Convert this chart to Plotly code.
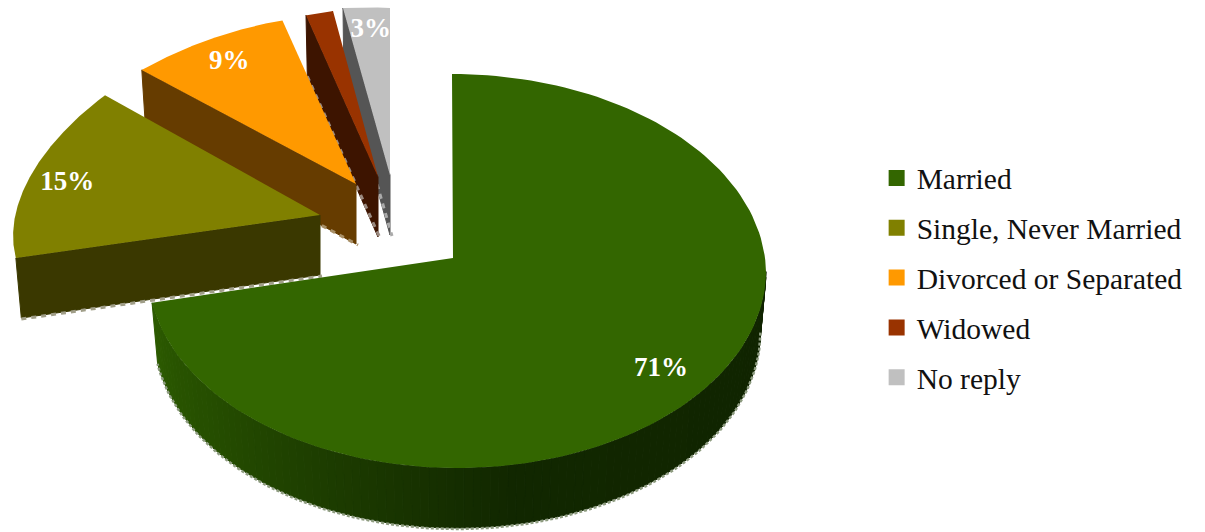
import numpy as np
import plotly.graph_objects as go

# ---- data ----
categories = ["Married", "Single, Never Married", "Divorced or Separated", "Widowed", "No reply"]
values = [71, 15, 9, 2, 3]
labels = ["71%", "15%", "9%", "", "3%"]

# ---- style ----
top_colors = ["#336600", "#808000", "#FF9900", "#993300", "#C0C0C0"]
wall_colors = [None, "#3A3800", "#663C00", "#3D1400", "#555555"]
rim_colors = ["#8E9C80", "#A09E88", "#A88F66", "#9A8A80", "#AAAAAA"]
FONT = "Liberation Serif"

# ---- pseudo-3D projection of the pie (layout settings, not data) ----
CX, CY = 453, 258       # apex of the un-pulled pie
EX, EY, ERX, ERY = 457, 271, 309, 197   # outer ellipse of the big slice (perspective shifts it)
WARP = 1.02             # perspective stretch of the big slice's angles
SKEW = 5                # rear of the big slice leans left
DEPTH = 60
BOTTOM_K = 0.982        # the lower face is slightly narrower (perspective)
# explosion offset of each slice, and radii at its start/end angle
pull = [(0, 0), (-133, -43), (-97, -74), (-75, -81), (-63, -83)]
rx_ends = [None, (314, 279), (278, 238), (233, 240), (251, 251)]
ry_ends = [None, (173, 188), (179, 172), (170, 169), (170, 167)]
LABEL_F = 0.86
label_nudge = [(2, -10), (-4, 2), (-2, 3), (0, 0), (1, 0)]

wall_stops_deg = [90, 170, 200, 230, 262]
wall_stops_rgb = np.array([[16, 36, 0], [18, 40, 0], [28, 58, 0], [37, 77, 0], [45, 92, 0]])

fractions = np.cumsum([0] + values) / sum(values)
starts, ends = fractions[:-1] * 2 * np.pi, fractions[1:] * 2 * np.pi


def project(i, th):
    th = np.asarray(th, dtype=float)
    ax, ay = CX + pull[i][0], CY + pull[i][1]
    if i == 0:
        phi = th * WARP
        c = np.cos(phi)
        return EX + ERX * np.sin(phi) - SKEW * np.maximum(c, 0), EY - ERY * c, ax, ay
    t = (th - starts[i]) / (ends[i] - starts[i])
    rx = rx_ends[i][0] + (rx_ends[i][1] - rx_ends[i][0]) * t
    ry = ry_ends[i][0] + (ry_ends[i][1] - ry_ends[i][0]) * t
    return ax + rx * np.sin(th), ay - ry * np.cos(th), ax, ay


def poly(x, y, color, group, line=0.0):
    return go.Scatter(
        x=x, y=y, mode="lines", fill="toself", fillcolor=color,
        line=dict(color=color, width=line), hoverinfo="skip",
        showlegend=False, legendgroup=group,
    )


fig = go.Figure()

# slices painted back to front
for i in [4, 3, 2, 1, 0]:
    name = categories[i]
    th = np.linspace(starts[i], ends[i], 160)
    x, y, ax, ay = project(i, th)
    if i == 0:
        vis = th * WARP >= np.pi / 2
        tv, xv, yv = th[vis], x[vis], y[vis]
        xb = EX + (xv - EX) * BOTTOM_K
        yb = yv + DEPTH
        for k in range(len(tv) - 1):
            d = np.degrees(tv[k] * WARP)
            rgb = [np.interp(d, wall_stops_deg, wall_stops_rgb[:, c]) for c in range(3)]
            col = "rgb(%d,%d,%d)" % tuple(rgb)
            fig.add_trace(poly([xv[k], xv[k + 1], xb[k + 1], xb[k], xv[k]],
                               [yv[k], yv[k + 1], yb[k + 1], yb[k], yv[k]], col, name, 1))
        fig.add_trace(go.Scatter(x=xb, y=yb + 1, mode="lines", hoverinfo="skip", showlegend=False,
                                 line=dict(color=rim_colors[i], width=2.5, dash="3px,2px")))
    else:
        xs, ys = x[0], y[0]
        xsb = ax + (xs - ax) * BOTTOM_K
        fig.add_trace(poly([xs, ax, ax, xsb, xs], [ys, ay, ay + DEPTH, ys + DEPTH, ys],
                           wall_colors[i], name, 1))
        fig.add_trace(go.Scatter(x=[xsb, ax + 2], y=[ys + DEPTH + 1, ay + DEPTH + 1], mode="lines",
                                 hoverinfo="skip", showlegend=False,
                                 line=dict(color=rim_colors[i], width=3, dash="5px,5px")))
    fig.add_trace(poly(np.r_[ax, x, ax], np.r_[ay, y, ay], top_colors[i], name))

# percentage labels
for i, text in enumerate(labels):
    if not text:
        continue
    mid = (starts[i] + ends[i]) / 2
    px, py, ax, ay = project(i, mid)
    fig.add_trace(go.Scatter(
        x=[ax + (px - ax) * LABEL_F + label_nudge[i][0]],
        y=[ay + (py - ay) * LABEL_F + label_nudge[i][1]],
        mode="text", text=[text],
        textposition="middle center", hoverinfo="skip", showlegend=False,
        textfont=dict(family=FONT, size=27, color="white", weight="bold"),
    ))

# legend entries
for name, col in zip(categories, top_colors):
    fig.add_trace(go.Scatter(
        x=[None], y=[None], mode="markers", name=name, legendgroup=name,
        marker=dict(symbol="square", size=16, color=col),
    ))

fig.update_layout(
    width=1205, height=532, margin=dict(l=0, r=0, t=0, b=0),
    paper_bgcolor="white", plot_bgcolor="white",
    xaxis=dict(range=[0, 1205], visible=False, fixedrange=True),
    yaxis=dict(range=[532, 0], visible=False, fixedrange=True),
    legend=dict(x=0.7275, y=0.478, xanchor="left", yanchor="middle", tracegroupgap=8.5,
                font=dict(family=FONT, size=29.5, color="#111111"), itemclick=False,
                itemdoubleclick=False, bgcolor="rgba(0,0,0,0)"),
)
fig.write_html("out.html", config={"displayModeBar": False},
               post_script="document.body.style.margin='0';")
